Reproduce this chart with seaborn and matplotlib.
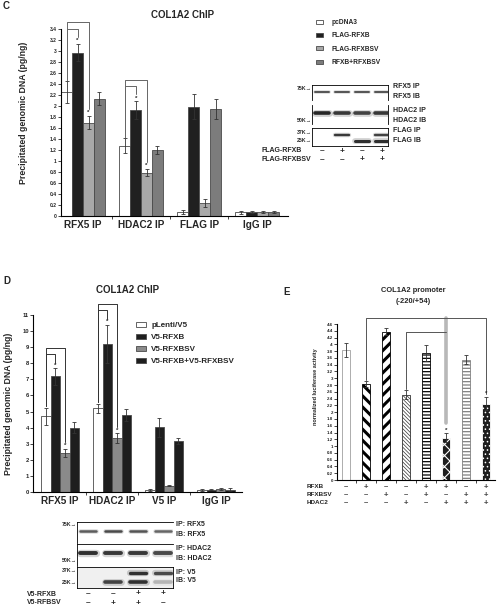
import numpy as np
import pandas as pd
import matplotlib
matplotlib.use("Agg")
import matplotlib.pyplot as plt
import matplotlib.transforms as mtransforms
import seaborn as sns

sns.set_style("ticks")
plt.rcParams["font.family"] = ["Liberation Sans", "DejaVu Sans"]
plt.rcParams["font.weight"] = "bold"

# panel C - COL1A2 ChIP with FLAG constructs
c_groups = ["RFX5 IP", "HDAC2 IP", "FLAG IP", "IgG IP"]
c_series = ["pcDNA3", "FLAG-RFXB", "FLAG-RFXBSV", "RFXB+RFXBSV"]
c_vals = [[2.25, 2.97, 1.70, 2.13],
          [1.28, 1.93, 0.79, 1.20],
          [0.07, 1.99, 0.24, 1.95],
          [0.07, 0.08, 0.07, 0.07]]
c_errs = [[0.20, 0.16, 0.12, 0.12],
          [0.13, 0.16, 0.07, 0.08],
          [0.04, 0.23, 0.07, 0.18],
          [0.03, 0.02, 0.02, 0.02]]

# panel D - COL1A2 ChIP with V5 constructs
d_groups = ["RFX5 IP", "HDAC2 IP", "V5 IP", "IgG IP"]
d_series = ["pLenti/V5", "V5-RFXB", "V5-RFXBSV", "V5-RFXB+V5-RFXBSV"]
d_vals = [[4.70, 7.18, 2.45, 4.00],
          [5.20, 9.20, 3.35, 4.78],
          [0.12, 4.02, 0.40, 3.17],
          [0.13, 0.15, 0.18, 0.15]]
d_errs = [[0.55, 0.50, 0.25, 0.32],
          [0.30, 1.20, 0.30, 0.38],
          [0.07, 0.60, 0.04, 0.20],
          [0.05, 0.04, 0.08, 0.10]]

# panel E - luciferase
e_vals = [3.84, 2.83, 4.37, 2.52, 3.74, 1.25, 3.55, 2.25]
e_errs = [0.20, 0.08, 0.10, 0.12, 0.23, 0.13, 0.13, 0.20]
e_rfxb = ["–", "+", "–", "–", "+", "+", "–", "+"]
e_rfxbsv = ["–", "–", "+", "–", "+", "–", "+", "+"]
e_hdac2 = ["–", "–", "–", "+", "–", "+", "+", "+"]

# western blots (band strength per lane)
c_rfxb = ["–", "+", "–", "+"]
c_rfxbsv = ["–", "–", "+", "+"]
c_band_rfx5 = [0.75, 0.75, 0.75, 0.75]
c_band_hdac2 = [1.0, 0.9, 0.85, 0.9]
c_band_flag_hi = [0, 0.9, 0, 0.85]
c_band_flag_lo = [0, 0, 0.95, 0.95]
d_rfxb = ["–", "–", "+", "+"]
d_rfxbsv = ["–", "+", "+", "–"]
d_band_rfx5 = [0.7, 0.8, 0.75, 0.65]
d_band_hdac2 = [0.95, 0.9, 0.9, 0.8]
d_band_v5_hi = [0, 0, 0.95, 0.8]
d_band_v5_lo = [0, 0.85, 0.95, 0.2]

W, H = 497, 608
fig = plt.figure(figsize=(W / 100, H / 100), dpi=100)


def box(l, t, r, b):
    return [l / W, 1 - b / H, (r - l) / W, (b - t) / H]


def ftext(x, y, s, **kw):
    kw.setdefault("va", "center")
    fig.text(x / W, 1 - y / H, s, **kw)


def grouped(ax, groups, series, colors, vals, errs, width):
    rows = [(g, s, vals[i][j]) for i, g in enumerate(groups) for j, s in enumerate(series)]
    df = pd.DataFrame(rows, columns=["ip", "cond", "value"])
    sns.barplot(data=df, x="ip", y="value", hue="cond", order=groups, hue_order=series,
                palette=colors, width=width, edgecolor="#4a4a4a", linewidth=0.6,
                errorbar=None, ax=ax)
    pos = np.zeros((len(groups), len(series)))
    for j, cont in enumerate(ax.containers):
        for i, bar in enumerate(cont):
            pos[i, j] = bar.get_x() + bar.get_width() / 2
    ax.errorbar(pos.ravel(), np.ravel(vals), yerr=np.ravel(errs), fmt="none",
                ecolor="#333333", elinewidth=0.6, capsize=1.5, capthick=0.6)
    return pos


def bracket(ax, xs, ys, top, color, lw=0.7):
    ax.plot([xs[0], xs[0], xs[1], xs[1]], [ys[0], top, top, ys[1]],
            color=color, lw=lw, clip_on=False)


def style_axes(ax, yticks, tick_fs):
    sns.despine(ax=ax)
    for s in ("left", "bottom"):
        ax.spines[s].set_linewidth(0.8)
        ax.spines[s].set_color("black")
    ax.set_yticks(yticks)
    ax.set_yticklabels([f"{v:g}" for v in yticks], fontsize=tick_fs)
    ax.tick_params(axis="y", length=2, width=0.6, pad=1)
    ax.tick_params(axis="x", which="major", length=0)
    ax.tick_params(axis="x", which="minor", length=2.5, width=0.6, direction="out")
    ax.set_xlabel("")


def blot(ax, rows, xlim, face="white", spines=("left", "right", "top", "bottom")):
    ax.set_xlim(*xlim)
    ax.set_ylim(0, 1)
    ax.set_xticks([])
    ax.set_yticks([])
    ax.set_facecolor(face)
    for s, sp in ax.spines.items():
        sp.set_visible(s in spines)
        sp.set_linewidth(0.6)
        sp.set_color("black")
    for yrow, strength, lw in rows:
        for lane, k in enumerate(strength):
            if k <= 0:
                continue
            xs = [lane - 0.33, lane + 0.33]
            ax.plot(xs, [yrow, yrow], color="black", alpha=0.18 * k, lw=lw * 1.9,
                    solid_capstyle="round")
            ax.plot(xs, [yrow, yrow], color=str(round(0.85 - 0.7 * k, 2)), lw=lw,
                    solid_capstyle="round")


# ---------------- panel C ----------------
axC = fig.add_axes(box(61, 29, 288, 216))
cpos = grouped(axC, c_groups, c_series, ["white", "#202020", "#a8a8a8", "#7c7c7c"],
               c_vals, c_errs, 0.75)
axC.set_xlim(-0.38, 3.53)
axC.set_ylim(0, 3.4)
style_axes(axC, np.round(np.arange(0, 3.41, 0.2), 1), 3.6)
axC.set_xticks([0.5, 1.5, 2.5], minor=True)
axC.set_xticklabels(c_groups, fontsize=7.2, fontweight="bold")
axC.tick_params(axis="x", pad=3)
axC.set_ylabel("Precipitated genomic DNA (pg/ng)", fontsize=6.3, fontweight="bold")
axC.yaxis.set_label_coords(-0.145, 0.55)
ctop = np.array(c_vals) + np.array(c_errs)
for g in (0, 1):
    inner = max(ctop[g][0], ctop[g][1]) + 0.27
    bracket(axC, (cpos[g, 0], cpos[g, 1]), (ctop[g][0] + 0.03, ctop[g][1] + 0.13), inner, "#666666")
    bracket(axC, (cpos[g, 0], cpos[g, 2]), (ctop[g][0] + 0.03, ctop[g][2] + 0.13), inner + 0.12, "#666666")
    for j in (1, 2):
        axC.text(cpos[g, j], ctop[g][j] + 0.01, "*", ha="center", va="bottom", fontsize=4.5)
sns.move_legend(axC, "upper left", bbox_to_anchor=(316 / W, 1 - 19 / H),
                bbox_transform=fig.transFigure, frameon=False, title=None, fontsize=4.8,
                handlelength=1.1, handleheight=0.55, handletextpad=1.3,
                labelspacing=0.95, borderpad=0, borderaxespad=0)
ftext(183, 15, "COL1A2 ChIP", ha="center", fontsize=7, fontweight="bold")
ftext(3, 6, "C", fontsize=7, fontweight="bold")

# blot C
cx = (-0.5, 3.3)
bC1 = fig.add_axes(box(312, 85, 388, 100))
blot(bC1, [(0.53, c_band_rfx5, 1.4)], cx, spines=("left", "right", "top"))
bC2 = fig.add_axes(box(312, 105, 388, 124))
blot(bC2, [(0.58, c_band_hdac2, 2.6)], cx, spines=("left", "right"))
bC3 = fig.add_axes(box(312, 128, 388, 146))
blot(bC3, [(0.6, c_band_flag_hi, 1.7), (0.3, c_band_flag_lo, 2.2)], cx)
for y, s in [(87, "RFX5 IP"), (97, "RFX5 IB"), (110, "HDAC2 IP"), (120, "HDAC2 IB"),
             (131, "FLAG IP"), (141, "FLAG IB")]:
    ftext(393, y, s, fontsize=5, fontweight="bold")
for y, s in [(88, "75K→"), (121, "50K→"), (132, "37K→"), (141, "25K→")]:
    ftext(312, y, s, ha="right", fontsize=3.8, fontweight="bold")
tC = mtransforms.blended_transform_factory(bC3.transData, fig.transFigure)
for y, lab, signs in [(151, "FLAG-RFXB", c_rfxb), (160, "FLAG-RFXBSV", c_rfxbsv)]:
    ftext(262, y, lab, fontsize=5, fontweight="bold")
    for lane, s in enumerate(signs):
        bC3.text(lane, 1 - y / H, s, transform=tC, ha="center", va="center", fontsize=6)

# ---------------- panel D ----------------
axD = fig.add_axes(box(33, 315, 242, 492))
dpos = grouped(axD, d_groups, d_series, ["white", "#1e1e1e", "#8a8a8a", "#1e1e1e"],
               d_vals, d_errs, 0.73)
axD.set_xlim(-0.52, 3.5)
axD.set_ylim(0, 11)
style_axes(axD, np.arange(0, 12), 4.2)
axD.set_xticks([0.5, 1.5, 2.5], minor=True)
axD.set_xticklabels(d_groups, fontsize=7.2, fontweight="bold")
axD.tick_params(axis="x", pad=3)
axD.set_ylabel("Precipitated genomic DNA (pg/ng)", fontsize=6.3, fontweight="bold")
axD.yaxis.set_label_coords(-0.096, 0.5)
dtop = np.array(d_vals) + np.array(d_errs)
for g in (0, 1):
    inner = max(dtop[g][0], dtop[g][1]) + 0.9
    bracket(axD, (dpos[g, 0], dpos[g, 1]), (dtop[g][0] + 0.1, dtop[g][1] + 0.35), inner, "#333333")
    bracket(axD, (dpos[g, 0], dpos[g, 2]), (dtop[g][0] + 0.1, dtop[g][2] + 0.4), inner + 0.4, "#333333")
    for j in (1, 2):
        axD.text(dpos[g, j], dtop[g][j] + 0.02, "*", ha="center", va="bottom", fontsize=4.5)
sns.move_legend(axD, "upper left", bbox_to_anchor=(136 / W, 1 - 322 / H),
                bbox_transform=fig.transFigure, frameon=False, title=None, fontsize=5.8,
                handlelength=1.2, handleheight=0.5, handletextpad=0.7,
                labelspacing=0.6, borderpad=0, borderaxespad=0)
ftext(128, 290, "COL1A2 ChIP", ha="center", fontsize=7, fontweight="bold")
ftext(3, 281, "D", fontsize=7, fontweight="bold")

# blot D
dx = (-0.45, 3.4)
bD1 = fig.add_axes(box(77, 522, 173, 543))
blot(bD1, [(0.55, d_band_rfx5, 1.8)], dx, spines=("left", "top"))
bD2 = fig.add_axes(box(77, 544, 173, 566))
blot(bD2, [(0.58, d_band_hdac2, 2.8)], dx, spines=("left", "top"))
bD3 = fig.add_axes(box(77, 567, 173, 588))
blot(bD3, [(0.7, d_band_v5_hi, 2.4), (0.3, d_band_v5_lo, 2.6)], dx, face="#f0f0f0")
for y, s in [(525, "IP: RFX5"), (534, "IB: RFX5"), (549, "IP: HDAC2"), (558, "IB: HDAC2"),
             (572, "IP: V5"), (581, "IB: V5")]:
    ftext(176, y, s, fontsize=5, fontweight="bold")
for y, s in [(524, "75K→"), (561, "50K→"), (571, "37K→"), (582, "25K→")]:
    ftext(77, y, s, ha="right", fontsize=3.8, fontweight="bold")
tD = mtransforms.blended_transform_factory(bD3.transData, fig.transFigure)
for y, lab, signs in [(594, "V5-RFXB", d_rfxb), (603, "V5-RFBSV", d_rfxbsv)]:
    ftext(27, y, lab, fontsize=5, fontweight="bold")
    for lane, s in enumerate(signs):
        bD3.text(lane, 1 - y / H, s, transform=tD, ha="center", va="center", fontsize=6)

# ---------------- panel E ----------------
axE = fig.add_axes(box(337, 324, 495, 480))
e_idx = list(range(len(e_vals)))
sns.barplot(x=e_idx, y=e_vals, color="white", width=0.4, errorbar=None, ax=axE,
            edgecolor="black", linewidth=0.6)
looks = [("white", "", "#a0a0a0", 1.2),
         ("white", "\\\\\\", "black", 2.2),
         ("white", "///", "black", 2.2),
         ("white", "\\\\\\\\\\\\\\\\\\", "#333333", 0.5),
         ("white", "-----", "black", 0.9),
         ("#1e1e1e", "xxx", "white", 0.8),
         ("white", "-----", "#808080", 0.9),
         ("#1e1e1e", "....", "white", 0.6)]
epos = []
for p, (fc, hatch, ec, hlw) in zip(axE.patches, looks):
    p.set_facecolor(fc)
    p.set_hatch(hatch)
    p.set_edgecolor(ec)
    if hasattr(p, "set_hatch_linewidth"):
        p.set_hatch_linewidth(hlw)
    epos.append(p.get_x() + p.get_width() / 2)
axE.errorbar(epos, e_vals, yerr=e_errs, fmt="none", ecolor="#333333",
             elinewidth=0.6, capsize=1.5, capthick=0.6)
axE.set_xlim(-0.45, 7.45)
axE.set_ylim(0, 4.6)
style_axes(axE, np.round(np.arange(0, 4.61, 0.2), 1), 3.2)
axE.set_xticks([i + 0.5 for i in range(7)], minor=True)
axE.set_xticklabels([])
axE.set_ylabel("normalized luciferase activity", fontsize=4, fontweight="bold")
axE.yaxis.set_label_coords(-0.12, 0.6)
etop = np.array(e_vals) + np.array(e_errs)
lvl1 = etop.max() + 0.3
lvl2 = etop[3:6].max() + 0.4
axE.plot([epos[5], epos[5]], [etop[5] + 0.3, lvl1], color="#b8b8b8", lw=2.6, clip_on=False)
bracket(axE, (epos[1], epos[7]), (etop[1] + 0.05, etop[7] + 0.1), lvl1, "#555555")
axE.plot([epos[3], epos[3], epos[5]], [etop[3] + 0.05, lvl2, lvl2], color="#555555",
         lw=0.7, clip_on=False)
for j in (5, 7):
    axE.text(epos[j], etop[j] + 0.02, "*", ha="center", va="bottom", fontsize=4.5)
tE = mtransforms.blended_transform_factory(axE.transData, fig.transFigure)
for y, lab, signs in [(487, "RFXB", e_rfxb), (495, "RFXBSV", e_rfxbsv), (503, "HDAC2", e_hdac2)]:
    ftext(307, y, lab, fontsize=4.6, fontweight="bold")
    for i, s in enumerate(signs):
        axE.text(epos[i], 1 - y / H, s, transform=tE, ha="center", va="center",
                 fontsize=5.5, color="#444444")
ftext(413, 290, "COL1A2 promoter", ha="center", fontsize=5.4, fontweight="bold")
ftext(413, 301, "(-220/+54)", ha="center", fontsize=5.4, fontweight="bold")
ftext(283, 292, "E", fontsize=7, fontweight="bold")

fig.savefig("out.png", dpi=100)
